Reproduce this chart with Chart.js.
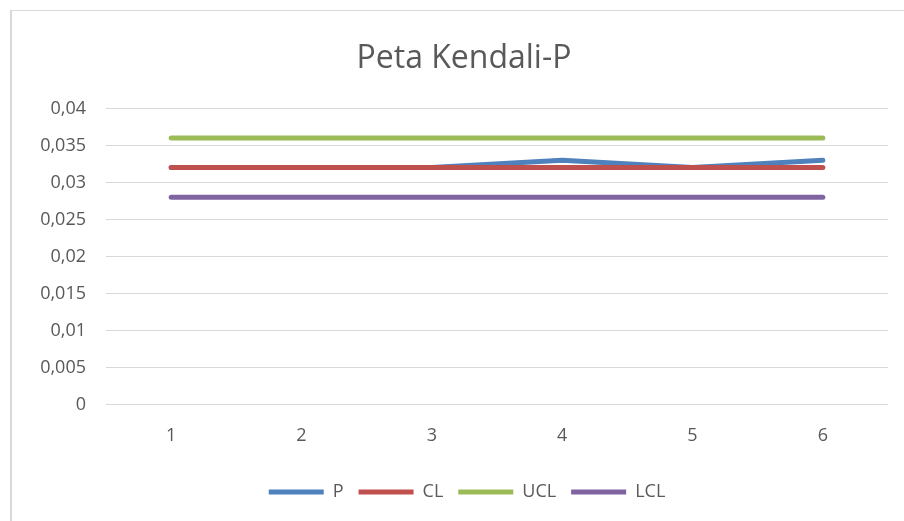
<!DOCTYPE html>
<html>
<head>
<meta charset="utf-8">
<script src="https://cdn.jsdelivr.net/npm/chart.js@4"></script>
<style>
  html, body { margin: 0; padding: 0; background: #fff; overflow: hidden; }
  #wrap { position: relative; width: 904px; height: 521px; }
  #frame {
    position: absolute; left: 10px; top: 10px; width: 900px; height: 520px;
    border-left: 2px solid #d9d9d9; border-top: 1px solid #d9d9d9;
    pointer-events: none;
  }
  canvas { position: absolute; left: 0; top: 0; }
</style>
</head>
<body>
<div id="wrap">
  <canvas id="chart" width="904" height="521"></canvas>
  <div id="frame"></div>
</div>
<script>
const labels = ['1', '2', '3', '4', '5', '6'];
const pValues = [0.032, 0.032, 0.032, 0.033, 0.032, 0.033];
const clValues = [0.032, 0.032, 0.032, 0.032, 0.032, 0.032];
const uclValues = [0.036, 0.036, 0.036, 0.036, 0.036, 0.036];
const lclValues = [0.028, 0.028, 0.028, 0.028, 0.028, 0.028];

const FONT = "'Open Sans', sans-serif";
const TEXT = '#595959';

function line(label, data, color, order) {
    return {
        label: label,
        data: data,
        borderColor: color,
        backgroundColor: color,
        borderWidth: 5,
        borderCapStyle: 'round',
        borderJoinStyle: 'round',
        pointRadius: 0,
        tension: 0,
        fill: false,
        order: order
    };
}

// Excel puts title and legend a little right of the canvas centre
const boxShift = {
    id: 'boxShift',
    afterLayout(chart) {
        chart.legend.left += 23;
        chart.legend.right += 23;
        chart.titleBlock.left += 20;
        chart.titleBlock.right += 20;
    }
};

document.addEventListener('DOMContentLoaded', () => {
    const ctx = document.getElementById('chart').getContext('2d');
    new Chart(ctx, {
        type: 'line',
        data: {
            labels: labels,
            datasets: [
                line('P', pValues, '#4f81bd', 4),
                line('CL', clValues, '#c0504d', 3),
                line('UCL', uclValues, '#9bbb59', 2),
                line('LCL', lclValues, '#8064a2', 1)
            ]
        },
        options: {
            responsive: false,
            animation: false,
            layout: { padding: { left: 0, right: 16, top: 0, bottom: 10 } },
            scales: {
                y: {
                    min: 0,
                    max: 0.04,
                    ticks: {
                        stepSize: 0.005,
                        color: TEXT,
                        padding: 20,
                        font: { family: FONT, size: 18 },
                        callback: (v) => Number(v.toFixed(3)).toString().replace('.', ',')
                    },
                    grid: { color: '#d9d9d9', lineWidth: 1, drawTicks: false },
                    border: { display: false },
                    afterFit: (scale) => { scale.width = 106; }
                },
                x: {
                    offset: true,
                    ticks: {
                        color: TEXT,
                        padding: 21,
                        font: { family: FONT, size: 18 }
                    },
                    grid: { display: false, drawTicks: false },
                    border: { display: false }
                }
            },
            plugins: {
                title: {
                    display: true,
                    text: 'Peta Kendali-P',
                    color: TEXT,
                    font: { family: FONT, size: 32, weight: 'normal' },
                    padding: { top: 40, bottom: 30 }
                },
                legend: {
                    position: 'bottom',
                    labels: {
                        usePointStyle: true,
                        pointStyle: 'line',
                        pointStyleWidth: 55,
                        color: TEXT,
                        padding: 15,
                        font: { family: FONT, size: 18 },
                        sort: (a, b) => a.datasetIndex - b.datasetIndex
                    }
                },
                tooltip: { enabled: false }
            }
        },
        plugins: [boxShift]
    });
});
</script>
</body>
</html>
